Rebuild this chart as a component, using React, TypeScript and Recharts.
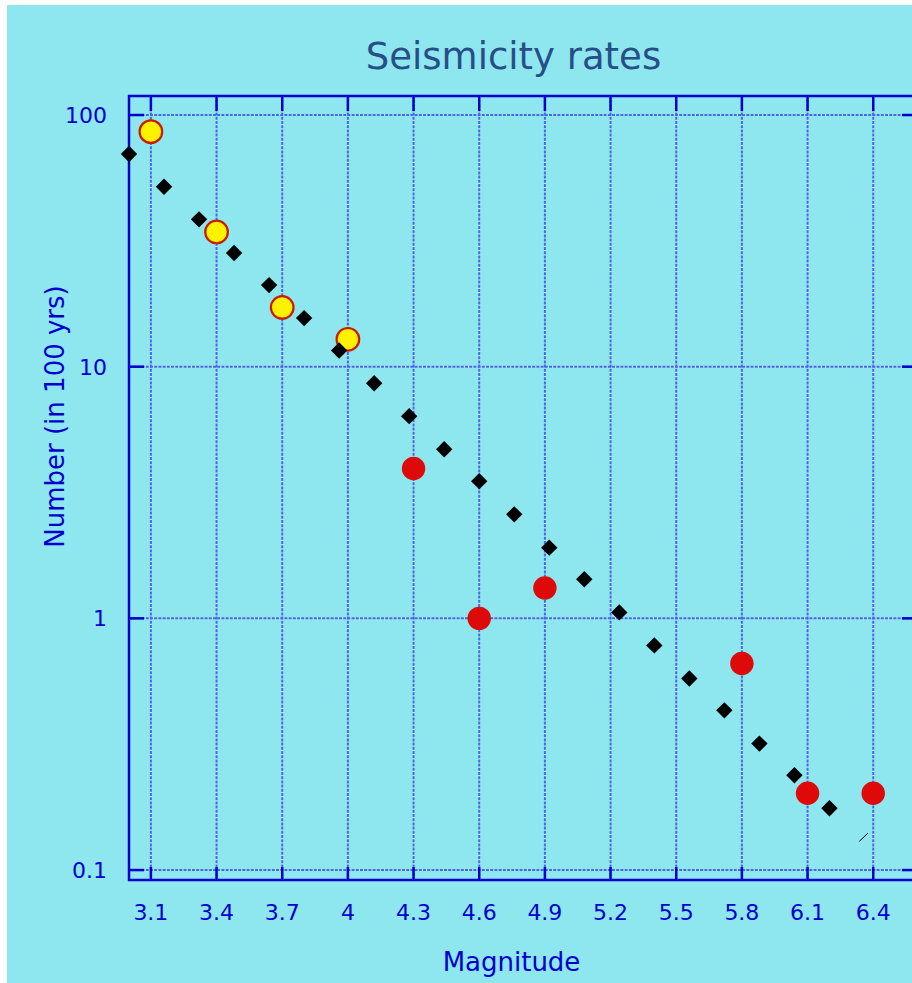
import React from "react";
import { ReferenceArea, ReferenceLine, Scatter, ScatterChart, XAxis, YAxis } from "recharts";

// magnitude ticks / rate ticks (log axis)
const MAG_TICKS = [3.1, 3.4, 3.7, 4, 4.3, 4.6, 4.9, 5.2, 5.5, 5.8, 6.1, 6.4];
const RATE_TICKS = [0.1, 1, 10, 100];

// black diamonds - fitted rates
const fitMag = [3.0, 3.16, 3.32, 3.48, 3.64, 3.8, 3.96, 4.12, 4.28, 4.44, 4.6, 4.76, 4.92, 5.08, 5.24, 5.4, 5.56, 5.72, 5.88, 6.04, 6.2];
const fitRate = [70, 51.9, 38.5, 28.3, 21.1, 15.6, 11.6, 8.6, 6.36, 4.7, 3.51, 2.59, 1.91, 1.43, 1.056, 0.781, 0.577, 0.431, 0.318, 0.238, 0.176];

// yellow circles
const lowMag = [3.1, 3.4, 3.7, 4.0];
const lowRate = [85.9, 34.3, 17.2, 12.85];

// red circles
const highMag = [4.3, 4.6, 4.9, 5.8, 6.1, 6.4];
const highRate = [3.94, 1.0, 1.32, 0.662, 0.202, 0.202];

// little stray stroke near 6.35
const strayMag = [6.336, 6.375];
const strayRate = [0.13, 0.14];

const toRows = (xs: number[], ys: number[]) => xs.map((m, i) => ({ m, n: ys[i] }));

const W = 925;
const H = 985;
const PLOT_LEFT = 122;
const PLOT_TOP = 91;
const PLOT_RIGHT = 910;
const PLOT_BOTTOM = 875;

const AXIS = "#0000cc";
const GRID_BASE = "#d4deea";
const GRID_DASH = "#3370ea";
const FONT = "'DejaVu Sans', sans-serif";
const X_DOMAIN: [number, number] = [3.0, 6.6];
const Y_DOMAIN: [number, number] = [0.0913, 119];

function MagTick({ x, payload }: any) {
  return (
    <g>
      <line x1={x} y1={PLOT_BOTTOM} x2={x} y2={PLOT_BOTTOM - 13} stroke={AXIS} strokeWidth={2.5} />
      <line x1={x} y1={PLOT_TOP} x2={x} y2={PLOT_TOP + 15} stroke={AXIS} strokeWidth={2.5} />
      <text x={x} y={PLOT_BOTTOM + 40} textAnchor="middle" fill={AXIS} fontSize={22} fontFamily={FONT}>
        {payload.value}
      </text>
    </g>
  );
}

function RateTick({ y, payload }: any) {
  return (
    <g>
      <line x1={PLOT_LEFT} y1={y} x2={PLOT_LEFT + 15} y2={y} stroke={AXIS} strokeWidth={2.5} />
      <line x1={PLOT_RIGHT - 15} y1={y} x2={PLOT_RIGHT} y2={y} stroke={AXIS} strokeWidth={2.5} />
      <text x={PLOT_LEFT - 22} y={y} dy="0.36em" textAnchor="end" fill={AXIS} fontSize={22} fontFamily={FONT}>
        {payload.value}
      </text>
    </g>
  );
}

const Diamond = ({ cx, cy }: any) => (
  <polygon
    points={`${cx},${cy - 8.2} ${cx + 8.2},${cy} ${cx},${cy + 8.2} ${cx - 8.2},${cy}`}
    fill="#000"
  />
);

const YellowDot = ({ cx, cy }: any) => (
  <circle cx={cx} cy={cy} r={11.3} fill="#fff200" stroke="#cc1a00" strokeWidth={2.2} />
);

const RedDot = ({ cx, cy }: any) => <circle cx={cx} cy={cy} r={11.7} fill="#de0a0a" />;

const Nothing = () => <g />;

export default function App() {
  return (
    <div style={{ position: "fixed", left: 0, top: 0, width: 912, height: 983, overflow: "hidden", background: "#fff" }}>
      <div style={{ position: "absolute", left: 7, top: 5, width: W, height: H, background: "#8ee6ee" }}>
        <ScatterChart width={W} height={H} margin={{ top: PLOT_TOP, right: W - PLOT_RIGHT, bottom: 80, left: 0 }}>
          {/* dotted grid: pale base line with blue dashes on top */}
          {MAG_TICKS.map((m) => (
            <ReferenceLine key={`vb${m}`} x={m} stroke={GRID_BASE} strokeWidth={2} />
          ))}
          {RATE_TICKS.map((n) => (
            <ReferenceLine key={`hb${n}`} y={n} stroke={GRID_BASE} strokeWidth={2} />
          ))}
          {MAG_TICKS.map((m) => (
            <ReferenceLine key={`vd${m}`} x={m} stroke={GRID_DASH} strokeWidth={2} strokeDasharray="3 1.2" />
          ))}
          {RATE_TICKS.map((n) => (
            <ReferenceLine key={`hd${n}`} y={n} stroke={GRID_DASH} strokeWidth={2} strokeDasharray="3 1.2" />
          ))}
          <XAxis
            type="number"
            dataKey="m"
            domain={X_DOMAIN}
            ticks={MAG_TICKS}
            height={30}
            axisLine={false}
            tickLine={false}
            tickSize={0}
            tickMargin={0}
            interval={0}
            tick={<MagTick />}
          />
          <YAxis
            type="number"
            dataKey="n"
            scale="log"
            domain={Y_DOMAIN}
            ticks={RATE_TICKS}
            width={PLOT_LEFT}
            axisLine={false}
            tickLine={false}
            tickSize={0}
            tickMargin={0}
            interval={0}
            tick={<RateTick />}
          />
          <ReferenceArea
            x1={X_DOMAIN[0]}
            x2={X_DOMAIN[1]}
            y1={Y_DOMAIN[0]}
            y2={Y_DOMAIN[1]}
            fill="none"
            fillOpacity={0}
            stroke={AXIS}
            strokeWidth={2.5}
            ifOverflow="visible"
          />
          <Scatter data={toRows(lowMag, lowRate)} shape={<YellowDot />} isAnimationActive={false} />
          <Scatter data={toRows(fitMag, fitRate)} shape={<Diamond />} isAnimationActive={false} />
          <Scatter data={toRows(highMag, highRate)} shape={<RedDot />} isAnimationActive={false} />
          <Scatter
            data={toRows(strayMag, strayRate)}
            shape={<Nothing />}
            line={{ stroke: "#000", strokeWidth: 1 }}
            lineType="joint"
            isAnimationActive={false}
          />
        </ScatterChart>
        <svg width={W} height={H} style={{ position: "absolute", left: 0, top: 0, pointerEvents: "none" }}>
          <text x={506.5} y={64} textAnchor="middle" fill="#284e88" fontSize={37} fontFamily={FONT}>
            Seismicity rates
          </text>
          <text x={504.5} y={966} textAnchor="middle" fill={AXIS} fontSize={26} fontFamily={FONT}>
            Magnitude
          </text>
          <text
            x={57}
            y={411.5}
            textAnchor="middle"
            fill={AXIS}
            fontSize={26}
            fontFamily={FONT}
            transform="rotate(-90, 57, 411.5)"
          >
            Number (in 100 yrs)
          </text>
        </svg>
      </div>
    </div>
  );
}
